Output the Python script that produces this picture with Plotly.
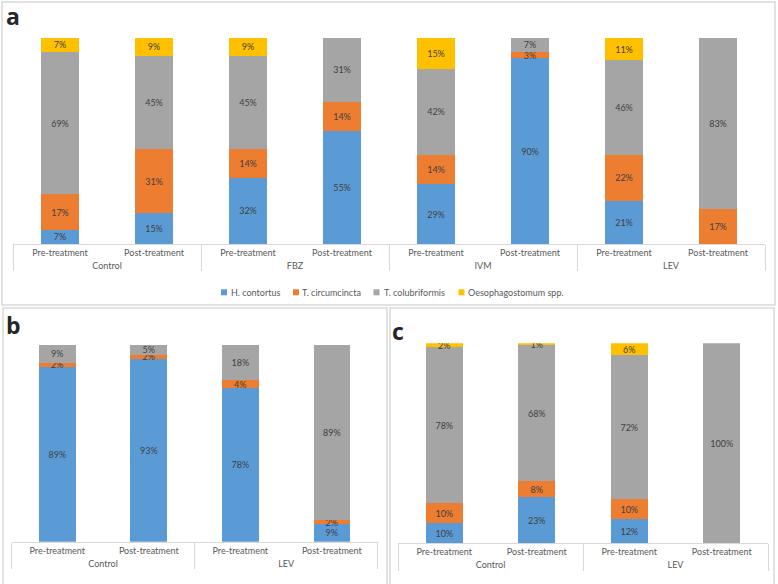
import plotly.graph_objects as go

species = ["H. contortus", "T. circumcincta", "T. colubriformis", "Oesophagostomum spp."]
colors = ["#5B9BD5", "#ED7D31", "#A5A5A5", "#FFC000"]

# Panel a
a_groups = ["Control", "Control", "FBZ", "FBZ", "IVM", "IVM", "LEV", "LEV"]
a_stages = ["Pre-treatment", "Post-treatment"] * 4
a_hc = [7, 15, 32, 55, 29, 90, 21, 0]
a_tc = [17, 31, 14, 14, 14, 3, 22, 17]
a_tcol = [69, 45, 45, 31, 42, 7, 46, 83]
a_oes = [7, 9, 9, 0, 15, 0, 11, 0]

# Panel b
b_groups = ["Control", "Control", "LEV", "LEV"]
b_stages = ["Pre-treatment", "Post-treatment"] * 2
b_hc = [89, 93, 78, 9]
b_tc = [2, 2, 4, 2]
b_tcol = [9, 5, 18, 89]
b_oes = [0, 0, 0, 0]

# Panel c
c_groups = ["Control", "Control", "LEV", "LEV"]
c_stages = ["Pre-treatment", "Post-treatment"] * 2
c_hc = [10, 23, 12, 0]
c_tc = [10, 8, 10, 0]
c_tcol = [78, 68, 72, 100]
c_oes = [2, 1, 6, 0]

W, H = 778, 584
FONT = "Lato"

fig = go.Figure()

panels = [
    ("x", "y", a_groups, a_stages, [a_hc, a_tc, a_tcol, a_oes]),
    ("x2", "y2", b_groups, b_stages, [b_hc, b_tc, b_tcol, b_oes]),
    ("x3", "y3", c_groups, c_stages, [c_hc, c_tc, c_tcol, c_oes]),
]

for xa, ya, groups, stages, series in panels:
    for name, col, vals in zip(species, colors, series):
        fig.add_trace(go.Bar(
            x=[groups, stages], y=vals, name=name,
            marker=dict(color=col, line=dict(width=0)),
            text=[f"{v}%" if v else "" for v in vals],
            textposition="inside", insidetextanchor="middle",
            textangle=0, constraintext="none",
            textfont=dict(family=FONT, size=9, color="#404040"),
            xaxis=xa, yaxis=ya, showlegend=False, hoverinfo="skip",
        ))

def px_x(p):
    return p / W

def px_y(p):
    return 1 - p / H

# legend (panel a): small colour swatches with species names
legend_swatch_left = [221, 293, 373.5, 458.5]
legend_text_start = [228.5, 300, 381.5, 466]
LEG_Y = 292.3
for name, col, sx, tx in zip(species, colors, legend_swatch_left, legend_text_start):
    fig.add_shape(type="rect", xref="paper", yref="paper",
                  x0=px_x(sx), x1=px_x(sx + 6), y0=px_y(LEG_Y + 3), y1=px_y(LEG_Y - 3),
                  fillcolor=col, line=dict(width=0))
    fig.add_annotation(text=name, xref="paper", yref="paper", x=px_x(tx), y=px_y(LEG_Y),
                       xanchor="left", yanchor="middle", showarrow=False,
                       font=dict(family=FONT, size=9, color="#595959"))

xcommon = dict(type="multicategory", showline=True, linecolor="#D9D9D9", linewidth=1,
               showdividers=True, dividercolor="#D9D9D9", dividerwidth=1,
               showgrid=False, ticks="outside", ticklen=6, tickcolor="rgba(255,255,255,0)",
               zeroline=False,
               tickfont=dict(family=FONT, size=9, color="#595959"), fixedrange=True)
ycommon = dict(range=[0, 100], visible=False, showgrid=False, fixedrange=True)

fig.update_layout(
    width=W, height=H,
    margin=dict(l=0, r=0, t=0, b=0),
    paper_bgcolor="white", plot_bgcolor="white",
    barmode="stack", bargap=0.6,
    font=dict(family=FONT, color="#595959"),
    xaxis=dict(domain=[px_x(13), px_x(765)], anchor="y", **xcommon),
    yaxis=dict(domain=[px_y(244), px_y(37.7)], anchor="x", **ycommon),
    xaxis2=dict(domain=[px_x(11.5), px_x(377.6)], anchor="y2", **xcommon),
    yaxis2=dict(domain=[px_y(541.7), px_y(345)], anchor="x2", **ycommon),
    xaxis3=dict(domain=[px_x(398), px_x(768)], anchor="y3", **xcommon),
    yaxis3=dict(domain=[px_y(543.3), px_y(343.3)], anchor="x3", **ycommon),
    showlegend=False,
)

# panel borders
border = dict(type="rect", xref="paper", yref="paper", line=dict(color="#D9D9D9", width=1.5),
              fillcolor="rgba(0,0,0,0)", layer="below")
fig.add_shape(x0=px_x(2), x1=px_x(775), y0=px_y(305), y1=px_y(2), **border)
fig.add_shape(x0=px_x(3), x1=px_x(387), y0=px_y(600), y1=px_y(308), **border)
fig.add_shape(x0=px_x(390), x1=px_x(774), y0=px_y(600), y1=px_y(308), **border)

# panel letters
for txt, xp, yp in [("a", 4, 16), ("b", 4, 325), ("c", 390, 331)]:
    fig.add_annotation(text=f"<b>{txt}</b>", xref="paper", yref="paper",
                       x=px_x(xp), y=px_y(yp), xanchor="left", yanchor="middle",
                       showarrow=False, font=dict(family="Open Sans", size=23, color="#262626"))

fig.write_html("out.html", config={"displayModeBar": False},
               post_script="document.body.style.margin='0px';")
